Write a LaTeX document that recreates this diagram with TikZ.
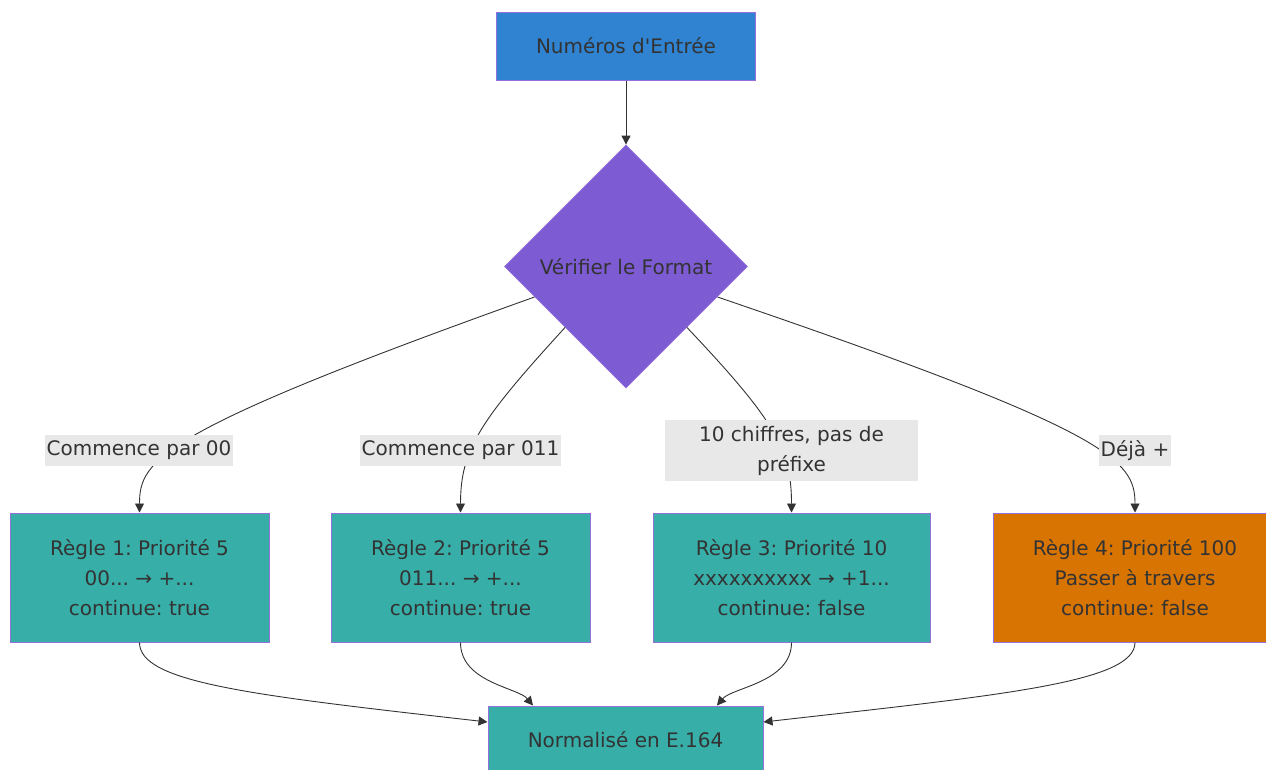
\documentclass[tikz,border=0pt]{standalone}
\usepackage{fontspec}
\setmainfont{DejaVu Sans}
\usetikzlibrary{shapes.geometric,arrows.meta,calc}

\definecolor{txt}{HTML}{333333}
\definecolor{inblue}{HTML}{2F83D1}
\definecolor{chkpurple}{HTML}{7C5BD3}
\definecolor{ruleteal}{HTML}{37AEA8}
\definecolor{ruleorange}{HTML}{D87402}
\definecolor{edgebg}{HTML}{E8E8E8}
\definecolor{nodeborder}{HTML}{9370DB}

\frenchspacing
\begin{document}
\begin{tikzpicture}[x=1pt,y=-1pt,
  every node/.style={font=\fontsize{20}{30}\selectfont, text=txt},
  flowbox/.style={draw=nodeborder, line width=1pt, align=center, inner sep=0pt},
  rulebox/.style={flowbox, fill=ruleteal, minimum height=129pt},
  decision/.style={diamond, aspect=1, draw=nodeborder, line width=0.8pt, fill=chkpurple,
    minimum size=243pt, inner sep=0pt},
  edgelabel/.style={fill=edgebg, align=center, inner xsep=2pt, inner ysep=0pt, minimum height=31pt},
  flow/.style={draw=txt, line width=0.9pt, -{Triangle[length=9pt,width=9pt]}},
]
\useasboundingbox (0,0) rectangle (1266,769);

% nodes
\node[flowbox, fill=inblue, minimum width=259pt, minimum height=68pt] (in) at (626,46) {Numéros d\textquotesingle Entrée};
\node[decision] (chk) at (626,266.5) {Vérifier le Format};

\node[rulebox, minimum width=259pt] (r1) at (139.5,577.5) {Règle 1: Priorité 5\\00... → +...\\continue: true};
\node[rulebox, minimum width=259pt] (r2) at (460.5,577.5) {Règle 2: Priorité 5\\011... → +...\\continue: true};
\node[rulebox, minimum width=277pt] (r3) at (791.5,577.5) {Règle 3: Priorité 10\\xxxxxxxxxx → +1...\\continue: false};
\node[rulebox, fill=ruleorange, minimum width=284pt] (r4) at (1135,577.5) {Règle 4: Priorité 100\\Passer à travers\\continue: false};

\node[flowbox, fill=ruleteal, minimum width=275pt, minimum height=68pt] (out) at (625.5,740) {Normalisé en E.164};

% connectors
\draw[flow] (in.south) -- (chk.north);

\draw[flow] ($(chk.west)!0.25!(chk.south)$) .. controls +(-375,134) and +(0,-53) .. (r1.north);
\draw[flow] ($(chk.west)!0.5!(chk.south)$) .. controls +(-85,93) and +(0,-63) .. (r2.north);
\draw[flow] ($(chk.east)!0.5!(chk.south)$) .. controls +(88,93) and +(0,-63) .. (r3.north);
\draw[flow] ($(chk.east)!0.25!(chk.south)$) .. controls +(393,134) and +(0,-53) .. (r4.north);

\draw[flow] (r1.south) .. controls +(0,40) and +(-238,-27) .. ([yshift=18pt]out.west);
\draw[flow] (r2.south) .. controls +(0,40) and +(-15,-18) .. ([xshift=-92.5pt]out.north);
\draw[flow] (r3.south) .. controls +(0,40) and +(15,-18) .. ([xshift=91.5pt]out.north);
\draw[flow] (r4.south) .. controls +(0,40) and +(238,-27) .. ([yshift=18pt]out.east);

% branch labels
\node[edgelabel] (l1) at (139,450.5) {Commence par 00};
\node[edgelabel] (l2) at (460.5,450.5) {Commence par 011};
\node[edgelabel, minimum width=253pt, minimum height=61pt] (l3) at (791.5,450.5) {10 chiffres, pas de\\préfixe};
\node[edgelabel] (l4) at (1135,450.5) {Déjà +};
\end{tikzpicture}
\end{document}
